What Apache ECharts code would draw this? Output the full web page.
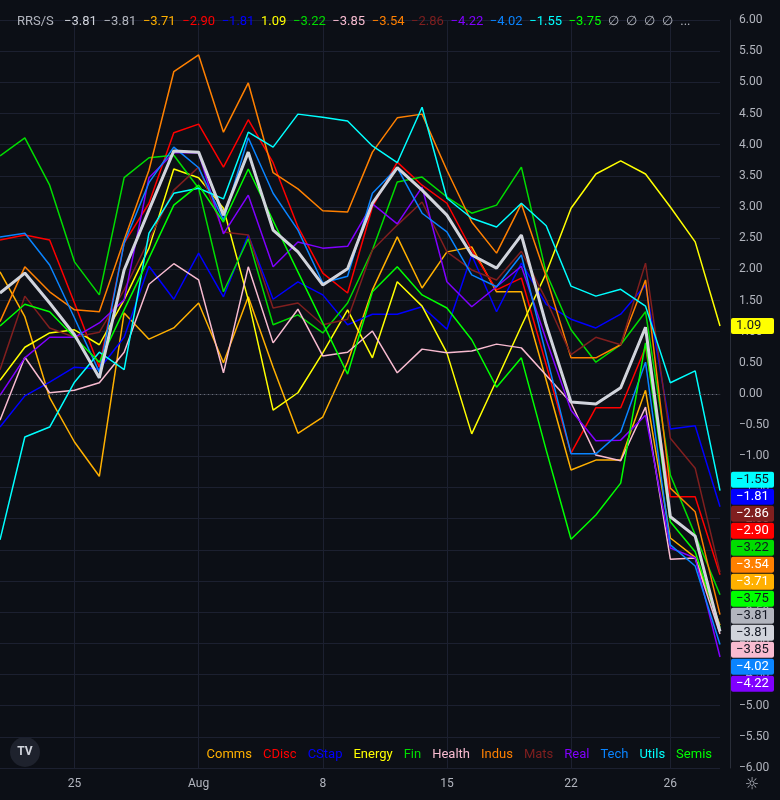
<!DOCTYPE html>
<html>
<head>
<meta charset="utf-8">
<script src="https://cdn.jsdelivr.net/npm/echarts@6/dist/echarts.min.js"></script>
<style>
  html, body { margin: 0; padding: 0; background: #0c0f16; }
  #chart { width: 780px; height: 800px; }
</style>
</head>
<body>
<div id="chart"></div>
<script>
    // trading days, 2022-07-20 .. 2022-08-30
    const dates = ['07-20', '07-21', '07-22', '07-25', '07-26', '07-27', '07-28', '07-29',
        '08-01', '08-02', '08-03', '08-04', '08-05', '08-08', '08-09', '08-10', '08-11', '08-12',
        '08-15', '08-16', '08-17', '08-18', '08-19', '08-22', '08-23', '08-24', '08-25', '08-26',
        '08-29', '08-30'];
    const dateLabels = {'07-25': '25', '08-01': 'Aug', '08-08': '8', '08-15': '15', '08-22': '22', '08-26': '26'};

    // RRS/S values per line
    const spyValues = [1.62, 1.94, 1.46, 0.95, 0.26, 1.99, 2.95, 3.90, 3.88, 2.87, 3.88, 2.63, 2.28, 1.75, 2.01,
        3.06, 3.63, 3.27, 2.87, 2.23, 2.02, 2.55, 1.11, -0.13, -0.16, 0.10, 1.07, -1.97, -2.28, -3.81];
    const baseValues = [1.62, 1.94, 1.46, 0.95, 0.26, 1.99, 2.95, 3.90, 3.88, 2.87, 3.88, 2.63, 2.28, 1.75, 2.01,
        3.06, 3.63, 3.27, 2.87, 2.23, 2.02, 2.55, 1.11, -0.13, -0.16, 0.10, 1.07, -1.97, -2.28, -3.81];
    const commsValues = [1.96, 1.24, -0.06, -0.77, -1.32, 1.30, 0.88, 1.06, 1.46, 0.50, 1.56, 0.43, -0.63, -0.37, 0.51,
        1.67, 2.52, 1.70, 2.28, 2.36, 1.64, 1.64, 0.22, -1.22, -1.06, -1.06, 0.06, -2.31, -2.62, -3.71];
    const cdiscValues = [2.47, 2.55, 2.47, 1.46, 0.43, 2.42, 3.06, 4.19, 4.33, 3.64, 4.40, 3.71, 2.68, 1.94, 1.62,
        3.00, 3.72, 3.35, 3.06, 2.31, 1.67, 1.86, 0.47, -0.95, -0.22, -0.22, 0.75, -1.65, -1.65, -2.90];
    const cstapValues = [-0.53, -0.03, 0.19, 0.43, 0.40, 0.91, 2.05, 1.52, 2.26, 1.56, 2.55, 1.52, 1.80, 1.59, 1.11,
        1.28, 1.28, 1.40, 1.04, 2.23, 1.32, 2.10, 1.44, 1.20, 1.06, 1.28, 1.75, -0.56, -0.51, -1.81];
    const energyValues = [0.22, 0.75, 0.98, 1.03, 0.79, 1.51, 2.34, 3.61, 3.47, 2.98, 1.51, -0.26, 0.02, 0.66, 1.35,
        0.58, 1.80, 1.41, 0.66, -0.64, 0.22, 1.09, 1.94, 2.98, 3.53, 3.74, 3.53, 3.00, 2.44, 1.09];
    const finValues = [3.82, 4.11, 3.35, 2.12, 1.59, 3.47, 3.79, 3.83, 3.30, 1.64, 2.49, 1.11, 1.27, 0.98, 1.46,
        2.31, 3.40, 3.48, 3.16, 2.90, 3.03, 3.64, 1.94, 1.03, 0.51, 0.79, 1.32, -1.30, -2.26, -3.22];
    const healthValues = [-0.42, 0.59, 0.02, 0.06, 0.18, 0.67, 1.76, 2.09, 1.83, 0.34, 2.04, 0.82, 1.36, 0.61, 0.67,
        1.01, 0.34, 0.72, 0.66, 0.69, 0.80, 0.74, 0.30, -0.14, -0.98, -1.07, -0.21, -2.65, -2.63, -3.85];
    const indusValues = [1.16, 2.04, 1.64, 1.35, 1.32, 2.47, 3.59, 5.17, 5.44, 4.20, 4.99, 3.55, 3.29, 2.94, 2.92,
        3.88, 4.43, 4.49, 3.59, 2.76, 2.26, 3.05, 1.88, 0.58, 0.58, 0.79, 1.83, -1.51, -1.89, -3.54];
    const matsValues = [0.39, 1.57, 1.06, 0.91, 0.99, 1.67, 2.47, 3.27, 3.64, 2.60, 2.55, 1.38, 1.46, 1.11, 1.20,
        2.31, 2.71, 3.08, 2.28, 1.99, 1.83, 2.29, 1.51, 0.63, 0.91, 0.79, 2.10, -0.71, -1.19, -2.86];
    const realValues = [-0.02, 0.58, 0.91, 0.91, 1.14, 1.51, 3.47, 3.87, 3.87, 2.57, 3.19, 2.04, 2.44, 2.34, 2.37,
        3.05, 2.73, 3.32, 1.80, 1.40, 1.72, 2.05, 0.87, -0.26, -0.75, -0.74, -0.34, -2.47, -2.63, -4.22];
    const techValues = [2.52, 2.58, 2.07, 1.22, 0.35, 2.42, 3.39, 3.96, 3.63, 2.79, 4.11, 3.22, 2.63, 1.78, 1.89,
        3.22, 3.63, 2.90, 2.60, 1.91, 1.72, 2.23, 0.63, -0.96, -0.96, -0.61, 0.51, -2.42, -2.76, -4.02];
    const utilsValues = [-2.34, -0.69, -0.53, 0.19, 0.67, 0.39, 2.58, 3.22, 3.30, 3.13, 4.20, 3.96, 4.49, 4.44, 4.38,
        3.98, 3.71, 4.60, 3.14, 2.82, 2.68, 3.06, 2.70, 1.73, 1.57, 1.68, 1.41, 0.18, 0.37, -1.55];
    const semisValues = [1.09, 1.44, 1.32, 0.91, 0.51, 1.35, 2.18, 3.03, 3.35, 2.76, 3.61, 2.78, 1.96, 1.14, 0.32,
        1.64, 2.04, 1.59, 1.38, 0.87, 0.11, 0.58, -0.90, -2.33, -1.94, -1.43, 0.82, -2.05, -2.53, -3.75];

    // 系列: name, data, 线色, 标签文字色
    const lines = [
        {name: 'SPY', data: spyValues, color: '#d1d4dc', text: '#131722', width: 3},
        {name: 'Base', data: baseValues, color: '#b2b5be', text: '#131722', width: 1.5},
        {name: 'Comms', data: commsValues, color: '#ffb000', text: '#ffffff'},
        {name: 'CDisc', data: cdiscValues, color: '#ff0000', text: '#ffffff'},
        {name: 'CStap', data: cstapValues, color: '#0000ff', text: '#ffffff'},
        {name: 'Energy', data: energyValues, color: '#ffff00', text: '#131722'},
        {name: 'Fin', data: finValues, color: '#00dd00', text: '#131722'},
        {name: 'Health', data: healthValues, color: '#f8bbd0', text: '#131722'},
        {name: 'Indus', data: indusValues, color: '#ff8000', text: '#ffffff'},
        {name: 'Mats', data: matsValues, color: '#801f1f', text: '#ffffff'},
        {name: 'Real', data: realValues, color: '#8000ff', text: '#ffffff'},
        {name: 'Tech', data: techValues, color: '#0a84ff', text: '#ffffff'},
        {name: 'Utils', data: utilsValues, color: '#00ffff', text: '#131722'},
        {name: 'Semis', data: semisValues, color: '#00ff00', text: '#131722'}
    ];
    const sectors = lines.slice(2);
    // 绘制顺序: 白线最后
    const drawOrder = [1, 2, 3, 4, 5, 6, 7, 8, 9, 10, 11, 12, 13, 0];

    const fmt = v => (v < 0 ? '\u2212' : '') + Math.abs(v).toFixed(2);
    const isLabelDay = (i, v) => !!dateLabels[v];

    // 顶部图例: RRS/S + 最新值
    let headText = '{n|RRS/S}';
    const headRich = {
        n: {color: '#b2b5be', fontSize: 13, fontWeight: 'normal', padding: [0, 7, 0, 0]},
        e: {color: '#b2b5be', fontSize: 13, fontWeight: 'normal', padding: [0, 3.5, 0, 3.5]}
    };
    lines.forEach((l, i) => {
        headText += '{s' + i + '|' + fmt(l.data[l.data.length - 1]) + '}';
        headRich['s' + i] = {color: l.color, fontSize: 13, fontWeight: 'normal', padding: [0, 3.3, 0, 3.3]};
    });
    headText += '{e|\u2205}{e|\u2205}{e|\u2205}{e|\u2205}{e|...}';

    const series = drawOrder.map(k => {
        const l = lines[k];
        const s = {
            name: l.name,
            type: 'line',
            data: l.data,
            symbol: 'none',
            silent: true,
            z: k === 0 ? 5 : 3,
            lineStyle: {color: l.color, width: l.width || 1.5},
            itemStyle: {color: l.color},
            emphasis: {disabled: true},
            endLabel: {
                show: true,
                formatter: p => fmt(p.value),
                distance: 11,
                backgroundColor: l.color,
                borderRadius: 2,
                color: l.text,
                fontSize: 13,
                lineHeight: 14,
                width: 33,
                padding: [2, 5, 0, 5]
            }
        };
        if (k === 0) {
            // 零轴
            s.markLine = {
                silent: true,
                symbol: ['none', 'none'],
                label: {show: false},
                lineStyle: {color: '#6a6d78', type: [1, 3], width: 1},
                data: [{yAxis: 0}]
            };
        }
        return s;
    });

    const chart = echarts.init(document.getElementById('chart'));
    chart.setOption({
        animation: false,
        backgroundColor: '#0c0f16',
        textStyle: {fontFamily: 'Roboto, "Noto Sans", sans-serif'},
        title: {
            left: 12,
            top: 10,
            text: headText,
            textStyle: {fontWeight: 'normal', rich: headRich}
        },
        legend: {
            right: 63,
            top: 743,
            icon: 'rect',
            itemWidth: 0,
            itemHeight: 0,
            itemGap: 6,
            selectedMode: false,
            data: sectors.map(l => ({name: l.name, textStyle: {color: l.color, fontSize: 13}}))
        },
        grid: {left: -2, right: 60, top: 20, bottom: 32},
        xAxis: {
            type: 'category',
            data: dates,
            boundaryGap: false,
            axisTick: {show: false},
            axisLine: {lineStyle: {color: '#2a2e39'}},
            axisLabel: {
                interval: isLabelDay,
                formatter: v => dateLabels[v] || '',
                color: '#b2b5be',
                fontSize: 12,
                margin: 10
            },
            splitLine: {show: true, interval: isLabelDay, lineStyle: {color: '#1c2030'}}
        },
        yAxis: {
            type: 'value',
            position: 'right',
            offset: 10,
            min: -6,
            max: 6,
            interval: 0.5,
            axisLine: {show: true, lineStyle: {color: '#2a2e39'}},
            axisTick: {show: false},
            axisLabel: {color: '#b2b5be', fontSize: 12, margin: 9, formatter: fmt},
            splitLine: {lineStyle: {color: '#1c2030'}}
        },
        graphic: [
            {type: 'circle', shape: {cx: 25, cy: 752, r: 15}, style: {fill: '#1e222d'}},
            {type: 'text', x: 25, y: 752, style: {text: 'TV', fill: '#d1d4dc', font: 'bold 12px Roboto', align: 'center', verticalAlign: 'middle'}},
            {type: 'text', x: 752, y: 785, style: {text: '\u263C', fill: '#b2b5be', font: '16px "DejaVu Sans"', align: 'center', verticalAlign: 'middle'}}
        ],
        series: series
    });

    // 价格标签堆叠 (类似 TradingView 右侧标签)
    const TAG = 17;
    const natY = lines.map(l => chart.convertToPixel({yAxisIndex: 0}, l.data[l.data.length - 1]));
    const order = lines.map((l, i) => i).sort((a, b) => (natY[a] - natY[b]) || (b - a));
    const placeGroup = g => {
        const ys = g.ids.map(i => natY[i]);
        const c = (Math.min(...ys) + Math.max(...ys)) / 2 + (g.ids.length > 1 ? 8 : 0);
        g.top = c - g.ids.length * TAG / 2;
    };
    let groups = order.map(i => ({ids: [i]}));
    groups.forEach(placeGroup);
    let merged = true;
    while (merged) {
        merged = false;
        for (let k = 0; k < groups.length - 1; k++) {
            const a = groups[k], b = groups[k + 1];
            // 相距不足一个标签高度就合并
            if (a.top + (a.ids.length + 1) * TAG > b.top) {
                a.ids = a.ids.concat(b.ids);
                placeGroup(a);
                groups.splice(k + 1, 1);
                merged = true;
                break;
            }
        }
    }
    const tagY = {};
    groups.forEach(g => g.ids.forEach((i, j) => { tagY[i] = g.top + TAG * j + TAG / 2; }));

    chart.setOption({
        series: drawOrder.map(k => ({
            labelLayout: params => ({
                dy: tagY[k] - (params.labelRect.y + params.labelRect.height / 2)
            })
        }))
    });
</script>
</body>
</html>
